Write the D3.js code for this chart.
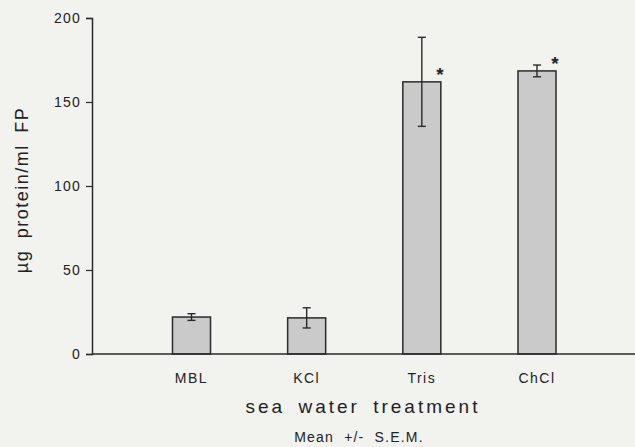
<!DOCTYPE html>
<html>
<head>
<meta charset="utf-8">
<script src="https://cdn.jsdelivr.net/npm/d3@7"></script>
<style>
  html, body { margin: 0; padding: 0; background: #f2f2ef; }
  svg { display: block; font-family: "Liberation Sans", Arial, sans-serif; }
</style>
</head>
<body>
<div id="chart"></div>
<script>
const categories = ['MBL', 'KCl', 'Tris', 'ChCl'];
const means = [22, 21.5, 162, 168.5];
const sems = [2, 6, 26.5, 3.5];
const significant = [false, false, true, true];
const yTicks = [0, 50, 100, 150, 200];

const width = 635, height = 447;
const margin = { top: 18, right: 0, bottom: 93, left: 92 };

const svg = d3.select('#chart').append('svg')
    .attr('width', width)
    .attr('height', height);

svg.append('rect')
    .attr('width', width).attr('height', height)
    .attr('fill', '#f2f2ef');

const x = d3.scaleBand()
    .domain(categories)
    .range([172.5, 556])
    .paddingInner(0.67)
    .paddingOuter(0);

const y = d3.scaleLinear()
    .domain([0, 200])
    .range([height - margin.bottom, margin.top]);

// bars
svg.append('g')
    .selectAll('rect')
    .data(categories)
    .join('rect')
    .attr('x', d => x(d))
    .attr('y', (d, i) => y(means[i]))
    .attr('width', x.bandwidth())
    .attr('height', (d, i) => y(0) - y(means[i]))
    .attr('fill', '#cacaca')
    .attr('stroke', '#2a2a2a')
    .attr('stroke-width', 1.5);

// error bars
const err = svg.append('g')
    .attr('stroke', '#2a2a2a')
    .attr('stroke-width', 1.4)
    .selectAll('g')
    .data(categories)
    .join('g')
    .attr('transform', d => `translate(${x(d) + x.bandwidth() / 2},0)`);

err.append('line')
    .attr('y1', (d, i) => y(means[i] + sems[i]))
    .attr('y2', (d, i) => y(means[i] - sems[i]));
err.append('line')
    .attr('x1', -4).attr('x2', 4)
    .attr('y1', (d, i) => y(means[i] + sems[i]))
    .attr('y2', (d, i) => y(means[i] + sems[i]));
err.append('line')
    .attr('x1', -4).attr('x2', 4)
    .attr('y1', (d, i) => y(means[i] - sems[i]))
    .attr('y2', (d, i) => y(means[i] - sems[i]));

// asterisks
svg.append('g')
    .selectAll('text')
    .data(categories.filter((d, i) => significant[i]))
    .join('text')
    .attr('x', d => x(d) + x.bandwidth() - 1)
    .attr('y', d => y(means[categories.indexOf(d)]) - 1)
    .attr('text-anchor', 'middle')
    .attr('font-size', 19)
    .attr('font-weight', 'bold')
    .attr('fill', '#222')
    .text('*');

// x axis
svg.append('g')
    .attr('transform', `translate(0,${y(0)})`)
    .call(g => g.append('line')
        .attr('x1', margin.left).attr('x2', width)
        .attr('stroke', '#2a2a2a').attr('stroke-width', 1.5))
    .selectAll('text.cat')
    .data(categories)
    .join('text')
    .attr('class', 'cat')
    .attr('x', d => x(d) + x.bandwidth() / 2)
    .attr('y', 29)
    .attr('text-anchor', 'middle')
    .attr('font-size', 14)
    .attr('letter-spacing', 1.5)
    .attr('fill', '#222')
    .text(d => d);

// y axis
const yAxis = svg.append('g')
    .attr('transform', `translate(${margin.left},0)`)
    .call(d3.axisLeft(y).tickValues(yTicks).tickSize(6).tickPadding(5));
yAxis.select('.domain').attr('stroke', '#2a2a2a').attr('stroke-width', 1.5);
yAxis.selectAll('.tick line').attr('stroke', '#2a2a2a').attr('stroke-width', 1.2);
yAxis.selectAll('.tick text')
    .attr('font-size', 14)
    .attr('letter-spacing', 1.2)
    .attr('fill', '#222')
    .attr('font-family', '"Liberation Sans", Arial, sans-serif');

// axis titles
svg.append('text')
    .attr('transform', `translate(22,190) rotate(-90)`)
    .attr('text-anchor', 'middle')
    .attr('dy', '0.35em')
    .attr('font-size', 18)
    .attr('letter-spacing', 1.5)
    .attr('word-spacing', 5)
    .attr('fill', '#222')
    .text('\u00b5g protein/ml FP');

svg.append('text')
    .attr('x', 363)
    .attr('y', 413)
    .attr('text-anchor', 'middle')
    .attr('font-size', 19)
    .attr('letter-spacing', 3)
    .attr('word-spacing', 5)
    .attr('fill', '#222')
    .text('sea water treatment');

svg.append('text')
    .attr('x', 359)
    .attr('y', 442)
    .attr('text-anchor', 'middle')
    .attr('font-size', 14)
    .attr('letter-spacing', 1.2)
    .attr('word-spacing', 5)
    .attr('fill', '#222')
    .text('Mean +/- S.E.M.');
</script>
</body>
</html>
